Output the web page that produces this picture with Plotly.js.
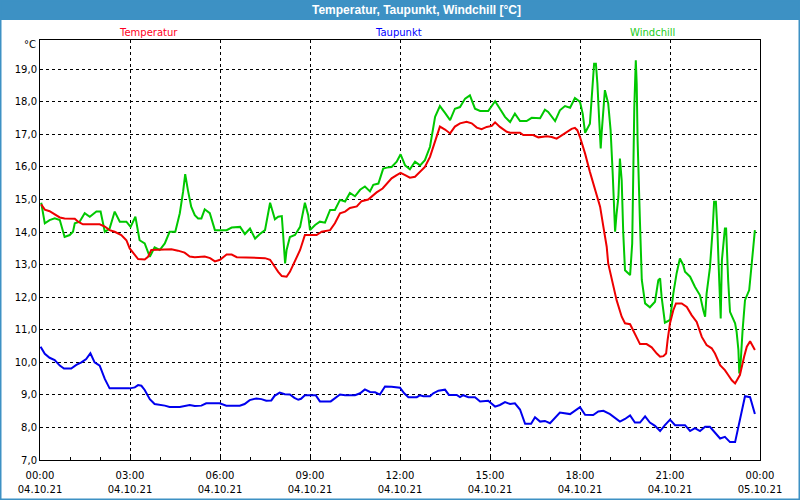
<!DOCTYPE html>
<html>
<head>
<meta charset="utf-8">
<script src="https://cdn.plot.ly/plotly-3.0.1.min.js"></script>
<style>html,body{margin:0;padding:0;background:#fff;}#chart{width:800px;height:500px;}</style>
</head>
<body>
<div id="chart"></div>
<script>
// Hours after 04.10.21 00:00 and values (°C)
const tempHours = [0.04,0.16,0.32,0.49,0.66,0.82,1.16,1.27,1.43,1.99,2.16,2.32,2.49,2.71,2.88,2.99,3.16,3.27,3.49,3.6,3.71,4.38,4.6,4.82,4.99,5.16,5.49,5.67,5.83,6.0,6.22,6.39,6.56,6.94,7.06,7.5,7.67,7.78,7.94,8.06,8.22,8.33,8.5,8.67,8.83,9.22,9.39,9.67,9.83,10.0,10.17,10.33,10.56,10.72,10.94,11.06,11.22,11.42,11.56,11.72,11.89,12.02,12.17,12.33,12.5,12.67,12.83,13.0,13.17,13.33,13.5,13.67,13.83,14.0,14.22,14.39,14.56,14.72,14.89,15.06,15.17,15.33,15.56,15.67,16.0,16.11,16.44,16.61,16.78,16.89,17.06,17.22,17.39,17.56,17.72,17.83,17.91,18.0,18.17,18.33,18.5,18.67,18.78,18.89,18.94,19.06,19.22,19.39,19.5,19.67,19.83,20.0,20.22,20.39,20.56,20.67,20.78,20.87,20.92,21.0,21.11,21.2,21.39,21.56,21.72,21.89,22.06,22.22,22.39,22.5,22.67,22.83,22.94,23.06,23.17,23.28,23.33,23.47,23.56,23.67,23.78,23.83];
const tempValues = [14.85,14.69,14.64,14.54,14.45,14.42,14.41,14.32,14.24,14.24,14.17,14.06,14.01,13.91,13.75,13.5,13.29,13.17,13.16,13.24,13.45,13.47,13.43,13.37,13.25,13.23,13.25,13.2,13.1,13.15,13.31,13.31,13.23,13.22,13.2,13.2,13.15,12.99,12.78,12.65,12.63,12.78,13.09,13.45,13.91,13.91,14.01,14.06,14.27,14.58,14.63,14.74,14.79,14.95,15.0,15.1,15.22,15.34,15.49,15.65,15.75,15.82,15.75,15.67,15.7,15.86,16.0,16.31,16.83,17.24,17.15,17.03,17.24,17.34,17.39,17.34,17.21,17.16,17.23,17.26,17.37,17.23,17.08,17.05,17.05,16.98,16.98,16.91,16.93,16.94,16.92,16.87,16.97,17.08,17.17,17.2,17.13,16.92,16.41,15.85,15.29,14.78,14.16,13.55,13.04,12.52,11.91,11.4,11.2,11.17,10.89,10.56,10.56,10.46,10.27,10.17,10.19,10.27,10.68,11.2,11.6,11.81,11.81,11.7,11.45,11.24,10.78,10.53,10.43,10.27,9.91,9.76,9.61,9.45,9.35,9.51,9.61,10.17,10.48,10.65,10.48,10.38];

const dewHours = [0.02,0.16,0.32,0.49,0.66,0.8,1.04,1.21,1.38,1.54,1.68,1.82,1.99,2.16,2.32,2.99,3.16,3.27,3.38,3.49,3.66,3.82,4.16,4.32,4.66,4.82,4.99,5.16,5.38,5.54,5.99,6.21,6.66,6.82,6.99,7.21,7.38,7.54,7.71,7.82,7.99,8.16,8.33,8.48,8.61,8.7,8.83,9.19,9.33,9.69,9.86,10.0,10.17,10.5,10.67,10.83,11.0,11.17,11.33,11.5,11.72,12.0,12.14,12.28,12.56,12.67,12.78,13.0,13.11,13.28,13.5,13.63,13.89,14.0,14.11,14.28,14.5,14.67,14.94,15.08,15.17,15.33,15.5,15.67,15.83,16.0,16.17,16.37,16.5,16.67,16.83,17.0,17.17,17.33,17.67,17.83,18.0,18.17,18.44,18.61,18.78,19.0,19.17,19.33,19.5,19.67,19.83,20.0,20.17,20.33,20.5,20.67,20.83,21.0,21.17,21.5,21.67,21.83,22.0,22.17,22.33,22.5,22.67,22.83,23.0,23.17,23.28,23.39,23.5,23.67,23.78,23.83];
const dewValues = [10.48,10.26,10.14,10.07,9.9,9.81,9.81,9.92,10.0,10.1,10.28,10.0,9.9,9.49,9.2,9.2,9.23,9.3,9.28,9.15,8.87,8.72,8.67,8.63,8.63,8.67,8.69,8.66,8.67,8.74,8.74,8.67,8.67,8.72,8.84,8.89,8.87,8.82,8.83,8.97,9.07,9.02,9.01,8.91,8.85,8.88,8.99,8.99,8.8,8.8,8.93,9.01,8.99,8.99,9.05,9.17,9.09,9.08,9.01,9.26,9.25,9.22,9.05,8.93,8.93,8.99,8.96,8.96,9.05,9.13,9.16,9.0,9.0,8.93,8.99,8.93,8.93,8.8,8.82,8.72,8.64,8.69,8.78,8.72,8.74,8.55,8.11,8.11,8.31,8.18,8.2,8.13,8.31,8.46,8.41,8.51,8.62,8.39,8.38,8.49,8.51,8.41,8.28,8.18,8.26,8.37,8.15,8.15,8.34,8.15,8.05,7.89,8.07,8.24,8.07,8.07,7.89,7.98,7.89,8.02,8.02,7.84,7.66,7.71,7.55,7.55,8.04,8.51,8.96,8.93,8.62,8.41];

const windHours = [0.04,0.16,0.32,0.49,0.66,0.82,0.99,1.1,1.16,1.32,1.49,1.66,1.88,2.02,2.16,2.32,2.49,2.66,2.88,3.02,3.18,3.32,3.49,3.66,3.82,3.99,4.16,4.32,4.51,4.66,4.77,4.84,4.93,5.04,5.16,5.27,5.38,5.49,5.66,5.83,6.22,6.39,6.67,6.83,7.0,7.17,7.33,7.5,7.67,7.83,7.94,8.06,8.11,8.17,8.22,8.33,8.5,8.67,8.83,8.94,9.0,9.17,9.33,9.5,9.67,9.83,10.0,10.17,10.33,10.5,10.67,10.83,11.0,11.11,11.28,11.44,11.56,11.72,11.89,12.02,12.17,12.33,12.5,12.67,12.83,13.0,13.17,13.33,13.5,13.67,13.83,14.0,14.17,14.33,14.5,14.67,14.94,15.17,15.33,15.5,15.67,15.83,16.0,16.22,16.39,16.67,16.83,16.94,17.17,17.33,17.5,17.67,17.83,18.0,18.09,18.17,18.33,18.39,18.47,18.53,18.58,18.64,18.69,18.72,18.83,18.94,19.02,19.09,19.17,19.22,19.28,19.33,19.39,19.44,19.5,19.67,19.74,19.81,19.86,19.89,19.92,20.0,20.06,20.17,20.33,20.5,20.61,20.67,20.72,20.83,21.0,21.11,21.22,21.33,21.44,21.5,21.67,21.83,22.0,22.11,22.17,22.22,22.33,22.42,22.47,22.53,22.58,22.64,22.69,22.73,22.83,22.87,22.91,22.94,23.0,23.17,23.22,23.28,23.31,23.36,23.42,23.5,23.64,23.72,23.78,23.83];
const windValues = [14.9,14.27,14.37,14.42,14.37,13.85,13.91,14.01,14.27,14.32,14.58,14.47,14.63,14.63,14.01,14.11,14.63,14.32,14.32,14.16,14.47,13.75,13.65,13.24,13.53,13.45,13.65,14.01,14.01,14.58,15.24,15.78,15.29,14.78,14.52,14.42,14.42,14.7,14.58,14.06,14.06,14.14,14.16,13.94,14.11,13.8,13.94,14.06,14.9,14.39,14.47,14.49,13.85,13.04,13.45,13.85,13.91,14.16,14.9,14.52,14.06,14.22,14.32,14.29,14.68,14.68,14.99,14.94,15.2,15.1,15.3,15.4,15.25,15.45,15.49,15.95,15.98,16.0,16.16,16.39,16.05,15.93,16.16,16.05,16.21,16.62,17.54,17.87,17.66,17.44,17.79,17.84,18.1,18.2,17.79,17.72,17.72,18.02,17.79,17.54,17.38,17.64,17.41,17.41,17.51,17.5,17.76,17.69,17.41,17.74,17.87,17.82,18.12,18.0,17.64,17.05,17.33,18.15,19.17,19.17,18.56,17.44,16.57,17.03,18.36,17.95,17.13,15.8,14.01,14.57,15.08,16.26,15.59,14.01,12.83,12.68,13.65,17.84,19.28,18.56,16.82,14.27,12.53,11.81,11.69,11.86,12.52,12.58,12.01,11.22,11.3,12.11,12.73,13.19,12.99,12.78,12.63,12.32,12.06,11.6,11.4,12.11,12.9,14.06,14.93,14.93,14.06,12.53,11.35,13.14,14.11,14.11,13.04,12.5,11.55,11.2,10.94,10.38,9.66,10.07,10.99,11.91,12.22,12.93,13.6,14.06];

const tickHours = [0,3,6,9,12,15,18,21,24];
const tickTimes = ["00:00","03:00","06:00","09:00","12:00","15:00","18:00","21:00","00:00"];
const tickDates = ["04.10.21","04.10.21","04.10.21","04.10.21","04.10.21","04.10.21","04.10.21","04.10.21","05.10.21"];
const seriesNames = ["Temperatur","Taupunkt","Windchill"];
const chartTitle = "Temperatur, Taupunkt, Windchill [°C]";

function toDate(h){
  const d = new Date(Date.UTC(2021,9,4) + Math.round(h*3600000));
  const p = n => String(n).padStart(2,'0');
  return d.getUTCFullYear()+'-'+p(d.getUTCMonth()+1)+'-'+p(d.getUTCDate())+' '+p(d.getUTCHours())+':'+p(d.getUTCMinutes())+':'+p(d.getUTCSeconds());
}

const RED = '#ee0000', BLUE = '#0000ee', GREEN = '#00c800', FRAME = '#3d91c4';
const FONT = 'DejaVu Sans';

const traces = [
  {x: windHours.map(toDate), y: windValues, name: seriesNames[2], mode:'lines', line:{color:GREEN,width:2}},
  {x: tempHours.map(toDate), y: tempValues, name: seriesNames[0], mode:'lines', line:{color:RED,width:2}},
  {x: dewHours.map(toDate), y: dewValues, name: seriesNames[1], mode:'lines', line:{color:BLUE,width:2}}
];

const px = v => (v-40)/720;
const py = v => (460-v)/420;

const layout = {
  width:800, height:500,
  margin:{l:40,r:40,t:40,b:40,pad:0},
  paper_bgcolor:'#ffffff', plot_bgcolor:'#ffffff',
  showlegend:false,
  separators:',.',
  font:{family:FONT,size:10,color:'#000000'},
  xaxis:{
    type:'date',
    range:[toDate(0),toDate(24)],
    tickmode:'array', tickvals: tickHours.map(toDate), ticktext: tickTimes,
    ticks:'inside', ticklen:3, tickcolor:'#000',
    ticklabelstandoff:6,
    showgrid:true, gridcolor:'#000', gridwidth:1, griddash:'3px,3px',
    showline:true, linecolor:'#000', linewidth:1, mirror:true,
    zeroline:false,
    tickfont:{family:FONT,size:10,color:'#000'},
    minor:{dtick:3600000, ticks:'inside', ticklen:3, tickcolor:'#000', showgrid:false}
  },
  xaxis2:{
    type:'date', overlaying:'x', anchor:'y', side:'bottom',
    range:[toDate(0),toDate(24)],
    tickmode:'array', tickvals: tickHours.map(toDate), ticktext: tickDates,
    ticks:'', ticklabelstandoff:22,
    showgrid:false, showline:false, zeroline:false,
    tickfont:{family:FONT,size:10,color:'#000'}
  },
  yaxis:{
    range:[7,19.9], dtick:1, tick0:7, tickformat:'.1f',
    ticks:'', showgrid:true, gridcolor:'#000', gridwidth:1, griddash:'3px,3px',
    showline:true, linecolor:'#000', linewidth:1, mirror:true,
    zeroline:false,
    tickfont:{family:FONT,size:10,color:'#000'}
  },
  shapes:[
    {type:'rect', xref:'paper', yref:'paper', x0:px(0), x1:px(800), y0:py(20), y1:py(0), fillcolor:FRAME, line:{width:0}},
    {type:'rect', xref:'paper', yref:'paper', x0:px(0), x1:px(800), y0:py(500), y1:py(0), fillcolor:'rgba(0,0,0,0)', line:{color:FRAME,width:3}}
  ],
  annotations:[
    {text:'<b>'+chartTitle+'</b>', xref:'paper', yref:'paper', x:px(416), y:py(10), xanchor:'center', yanchor:'middle', showarrow:false, font:{family:'Liberation Sans',size:12,color:'#ffffff'}},
    {text:seriesNames[0], xref:'paper', yref:'paper', x:px(148), y:py(32), xanchor:'center', yanchor:'middle', showarrow:false, font:{family:FONT,size:10,color:'#ff0022'}},
    {text:seriesNames[1], xref:'paper', yref:'paper', x:px(398), y:py(32), xanchor:'center', yanchor:'middle', showarrow:false, font:{family:FONT,size:10,color:'#0000ff'}},
    {text:seriesNames[2], xref:'paper', yref:'paper', x:px(652), y:py(32), xanchor:'center', yanchor:'middle', showarrow:false, font:{family:FONT,size:10,color:'#22cc22'}},
    {text:'°C', xref:'paper', yref:'paper', x:px(38), y:py(45), xanchor:'right', yanchor:'middle', showarrow:false, font:{family:FONT,size:10,color:'#000'}}
  ]
};

// dummy invisible trace so xaxis2 is drawn
traces.push({x:[toDate(0)], y:[null], xaxis:'x2', yaxis:'y', mode:'lines', hoverinfo:'skip', showlegend:false});

Plotly.newPlot('chart', traces, layout, {staticPlot:true, displayModeBar:false});
</script>
</body>
</html>
